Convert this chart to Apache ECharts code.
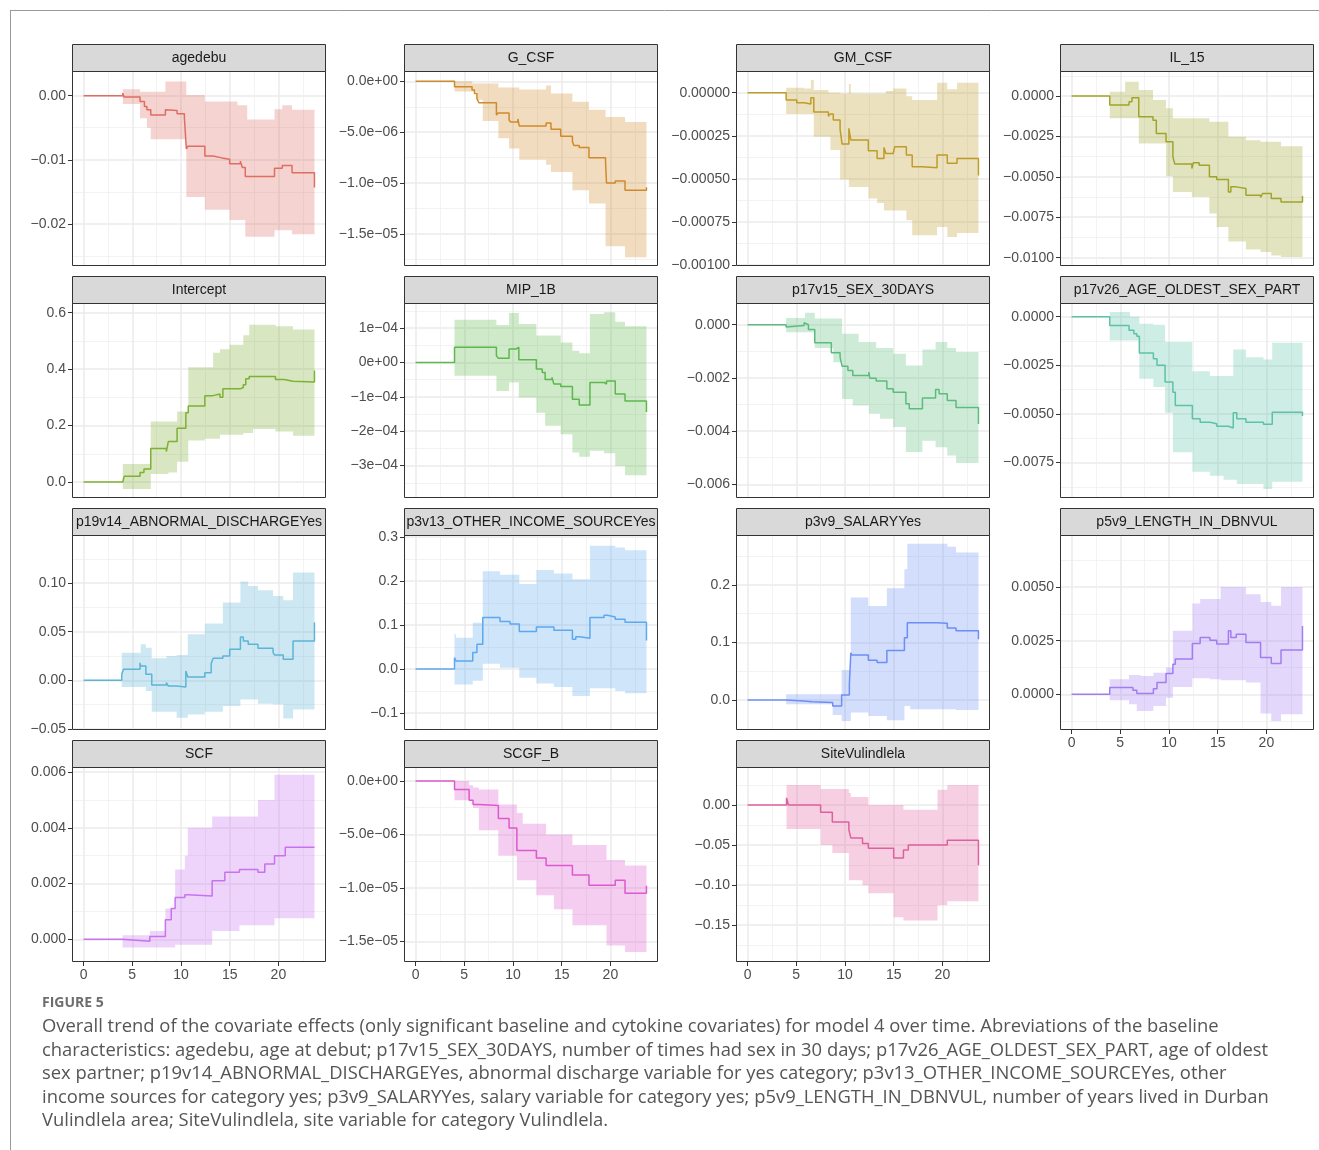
<!DOCTYPE html>
<html><head><meta charset="utf-8">
<script src="https://cdn.jsdelivr.net/npm/echarts@6/dist/echarts.min.js"></script>
<style>html,body{margin:0;padding:0;background:#fff;}#chart{width:1319px;height:1150px;}</style>
</head><body><div id="chart"></div>
<script>
// ---------------- DATA ----------------
const xTicks = [0, 5, 10, 15, 20];
const xMinorTicks = [2.5, 7.5, 12.5, 17.5, 22.5];

const agedebuT   = [0, 4.03, 4.15, 5.8, 6.25, 6.5, 6.9, 8.4, 8.6, 9.6, 10.35, 10.55, 10.7, 12.45, 13.3, 14.2, 15.0, 15.8, 16.1, 16.3, 16.6, 16.8, 19.6, 20.4, 21.4, 23.7];
const agedebuEst = [0, 0.0004, -0.0002, -0.0009, -0.0017, -0.0022, -0.003, -0.0022, -0.0023, -0.0028, -0.0034, -0.0083, -0.0079, -0.0094, -0.0097, -0.0099, -0.0106, -0.0106, -0.0102, -0.0112, -0.0126, -0.0126, -0.0113, -0.0109, -0.0120, -0.0143];
const agedebuHi  = [0, 0.001, 0.001, 0.0006, 0.0006, 0.0006, 0.0006, 0.0022, 0.0022, 0.0022, 0.0022, 0.0001, 0.0001, -0.0009, -0.0009, -0.0009, -0.0009, -0.0015, -0.0015, -0.0015, -0.0015, -0.0037, -0.0021, -0.0015, -0.0022, -0.0022];
const agedebuLo  = [0, -0.0013, -0.0013, -0.0035, -0.0035, -0.005, -0.0068, -0.0068, -0.0068, -0.0068, -0.0068, -0.0158, -0.0158, -0.0178, -0.0178, -0.0178, -0.0194, -0.0194, -0.0194, -0.0194, -0.0220, -0.0220, -0.0210, -0.0210, -0.0216, -0.0216];
const agedebuTicks = [0, -0.01, -0.02];
const agedebuLabels = ['0.00', '\u22120.01', '\u22120.02'];

const gcsfT   = [0, 4.0, 5.8, 6.05, 6.3, 6.5, 6.9, 8.3, 8.5, 9.6, 9.75, 10.5, 10.65, 13.4, 13.9, 14.9, 16.1, 16.25, 16.8, 17.8, 19.5, 19.6, 20.5, 21.5, 23.7];
const gcsfEst = [0, -5.3e-7, -8.5e-7, -1.2e-6, -1.7e-6, -2.1e-6, -2.1e-6, -3.3e-6, -3.1e-6, -3.8e-6, -4.0e-6, -3.7e-6, -4.4e-6, -4.1e-6, -4.7e-6, -5.4e-6, -5.9e-6, -6.3e-6, -6.5e-6, -7.5e-6, -7.9e-6, -1.0e-5, -9.8e-6, -1.07e-5, -1.04e-5];
const gcsfHi  = [0, 0, -2e-7, -2e-7, -2e-7, -2e-7, -2e-7, -2e-7, -6e-7, -6e-7, -6e-7, -6e-7, -8e-7, -4e-7, -1.2e-6, -1.2e-6, -2.0e-6, -2.0e-6, -2.0e-6, -2.8e-6, -3.5e-6, -3.5e-6, -3.5e-6, -4.0e-6, -4.0e-6];
const gcsfLo  = [0, -1.0e-6, -1.0e-6, -1.0e-6, -1.8e-6, -1.8e-6, -3.9e-6, -3.9e-6, -5.6e-6, -6.6e-6, -6.6e-6, -6.6e-6, -7.7e-6, -8.2e-6, -8.9e-6, -8.9e-6, -1.07e-5, -1.07e-5, -1.07e-5, -1.2e-5, -1.62e-5, -1.62e-5, -1.62e-5, -1.73e-5, -1.73e-5];
const gcsfTicks = [0, -5e-6, -1e-5, -1.5e-5];
const gcsfLabels = ['0.0e+00', '\u22125.0e\u221206', '\u22121.0e\u221205', '\u22121.5e\u221205'];

const gmcsfT   = [0, 3.96, 5.05, 5.8, 6.5, 6.8, 8.3, 8.5, 8.8, 9.5, 9.7, 10.4, 10.6, 12.4, 13.3, 14.0, 14.2, 14.95, 15.1, 16.3, 16.9, 17.95, 19.45, 20.5, 21.5, 23.7];
const gmcsfEst = [0, -4.3e-5, -5.8e-5, -6.6e-5, -2.9e-5, -1.12e-4, -1.36e-4, -1.24e-4, -1.59e-4, -2.13e-4, -2.98e-4, -2.07e-4, -2.75e-4, -3.37e-4, -3.82e-4, -3.18e-4, -3.53e-4, -3.62e-4, -3.14e-4, -3.62e-4, -4.30e-4, -4.36e-4, -3.62e-4, -4.10e-4, -3.82e-4, -4.80e-4];
const gmcsfHi  = [0, 2.9e-5, 2.9e-5, 2.5e-5, 7.4e-5, 1.6e-5, 0, 0, 0, -4e-6, -4e-6, 5.0e-5, -4e-6, -4e-6, -4e-6, -4e-6, 1.0e-5, 2.5e-5, 2.5e-5, -2.0e-5, -4.3e-5, -4.3e-5, 5.8e-5, 2.0e-5, 5.8e-5, 5.8e-5];
const gmcsfLo  = [0, -1.24e-4, -1.24e-4, -1.24e-4, -1.24e-4, -2.56e-4, -2.56e-4, -3.33e-4, -3.33e-4, -5.04e-4, -5.04e-4, -5.47e-4, -5.47e-4, -6.14e-4, -6.4e-4, -6.84e-4, -6.84e-4, -6.84e-4, -6.84e-4, -7.4e-4, -8.27e-4, -8.27e-4, -7.79e-4, -8.37e-4, -8.14e-4, -8.14e-4];
const gmcsfTicks = [0, -0.00025, -0.0005, -0.00075, -0.001];
const gmcsfLabels = ['0.00000', '\u22120.00025', '\u22120.00050', '\u22120.00075', '\u22120.00100'];

const il15T   = [0, 3.92, 5.5, 5.9, 6.2, 6.9, 8.36, 8.7, 9.7, 10.4, 10.6, 12.35, 12.5, 13.1, 14.15, 14.9, 16.1, 16.35, 16.9, 17.9, 19.4, 19.6, 20.5, 21.5, 23.7];
const il15Est = [0, -5.6e-4, -5.6e-4, -3.5e-4, -1.0e-4, -1.28e-3, -1.49e-3, -2.31e-3, -2.83e-3, -3.76e-3, -4.21e-3, -4.48e-3, -4.13e-3, -4.28e-3, -5.00e-3, -5.17e-3, -5.93e-3, -5.62e-3, -5.72e-3, -6.14e-3, -6.28e-3, -6.03e-3, -6.34e-3, -6.55e-3, -6.18e-3];
const il15Hi  = [0, 2.7e-4, 8.9e-4, 8.9e-4, 8.9e-4, 3.7e-4, -2.5e-4, -2.5e-4, -7.6e-4, -1.38e-3, -1.38e-3, -1.38e-3, -1.38e-3, -1.38e-3, -1.59e-3, -1.59e-3, -2.52e-3, -2.52e-3, -2.52e-3, -2.73e-3, -2.83e-3, -2.83e-3, -2.83e-3, -3.10e-3, -3.10e-3];
const il15Lo  = [0, -1.38e-3, -1.38e-3, -1.38e-3, -1.38e-3, -2.93e-3, -2.93e-3, -2.93e-3, -4.96e-3, -5.93e-3, -5.93e-3, -6.24e-3, -6.24e-3, -6.24e-3, -7.27e-3, -8.1e-3, -9.0e-3, -9.0e-3, -9.0e-3, -9.5e-3, -9.65e-3, -9.65e-3, -9.86e-3, -9.96e-3, -9.96e-3];
const il15Ticks = [0, -0.0025, -0.005, -0.0075, -0.01];
const il15Labels = ['0.0000', '\u22120.0025', '\u22120.0050', '\u22120.0075', '\u22120.0100'];

const interceptT   = [0, 4.03, 4.16, 5.8, 6.2, 6.9, 8.5, 8.7, 9.6, 10.5, 10.75, 12.45, 13.3, 14.0, 14.3, 15.0, 16.1, 16.4, 16.65, 17.0, 17.4, 19.7, 20.6, 21.5, 23.7];
const interceptEst = [0, -0.007, 0.02, 0.034, 0.046, 0.119, 0.108, 0.143, 0.19, 0.245, 0.269, 0.306, 0.312, 0.30, 0.33, 0.33, 0.335, 0.345, 0.366, 0.374, 0.374, 0.363, 0.357, 0.354, 0.395];
const interceptHi  = [0, 0.064, 0.064, 0.064, 0.064, 0.214, 0.214, 0.214, 0.25, 0.25, 0.407, 0.407, 0.458, 0.47, 0.47, 0.486, 0.486, 0.52, 0.52, 0.557, 0.557, 0.552, 0.552, 0.54, 0.54];
const interceptLo  = [0, -0.025, -0.025, -0.025, -0.025, 0.028, 0.028, 0.034, 0.072, 0.072, 0.147, 0.153, 0.153, 0.167, 0.167, 0.167, 0.167, 0.174, 0.174, 0.174, 0.188, 0.179, 0.179, 0.164, 0.164];
const interceptTicks = [0, 0.2, 0.4, 0.6];
const interceptLabels = ['0.0', '0.2', '0.4', '0.6'];

const mip1bT   = [0, 4.0, 8.3, 8.5, 9.6, 10.3, 10.6, 12.4, 13.0, 13.3, 14.0, 14.2, 14.9, 16.1, 16.8, 17.9, 19.35, 19.6, 20.5, 21.5, 23.7];
const mip1bEst = [0, 4.4e-5, 1.9e-5, 1.2e-5, 3.9e-5, 4.4e-5, 8e-6, -1.9e-5, -2.9e-5, -5.0e-5, -4.4e-5, -6.3e-5, -7.0e-5, -1.07e-4, -1.24e-4, -5.8e-5, -6.3e-5, -5.4e-5, -9.2e-5, -1.12e-4, -1.44e-4];
const mip1bHi  = [0, 1.24e-4, 1.09e-4, 1.09e-4, 1.44e-4, 1.44e-4, 1.12e-4, 7.8e-5, 7.8e-5, 7.8e-5, 7.8e-5, 7.8e-5, 5.8e-5, 3.4e-5, 2.7e-5, 1.41e-4, 1.46e-4, 1.46e-4, 1.18e-4, 1.05e-4, 1.05e-4];
const mip1bLo  = [0, -3.9e-5, -8.3e-5, -8.3e-5, -5.8e-5, -5.8e-5, -1.02e-4, -1.46e-4, -1.46e-4, -1.84e-4, -1.84e-4, -1.84e-4, -2.09e-4, -2.62e-4, -2.74e-4, -2.57e-4, -2.64e-4, -2.64e-4, -3.01e-4, -3.28e-4, -3.28e-4];
const mip1bTicks = [1e-4, 0, -1e-4, -2e-4, -3e-4];
const mip1bLabels = ['1e\u221204', '0e+00', '\u22121e\u221204', '\u22122e\u221204', '\u22123e\u221204'];

const sex30T   = [0, 3.96, 4.1, 5.8, 5.9, 6.25, 6.9, 8.6, 8.8, 9.5, 9.7, 10.3, 10.8, 11.4, 12.45, 12.55, 13.2, 13.6, 14.3, 14.95, 16.25, 16.6, 17.95, 19.3, 19.66, 20.5, 21.4, 23.7];
const sex30Est = [0, -9e-5, -3e-5, 7.5e-5, 0, -1.8e-4, -6.8e-4, -1.05e-3, -1.05e-3, -1.22e-3, -1.56e-3, -1.72e-3, -1.91e-3, -1.91e-3, -1.78e-3, -2.01e-3, -2.12e-3, -2.12e-3, -2.41e-3, -2.54e-3, -2.97e-3, -3.16e-3, -2.76e-3, -2.44e-3, -2.60e-3, -2.85e-3, -3.11e-3, -3.73e-3];
const sex30Hi  = [0, 2.5e-4, 2.5e-4, 2.5e-4, 4.5e-4, 4.5e-4, 2.3e-4, 2.3e-4, 2.3e-4, 2.3e-4, -3.4e-4, -3.4e-4, -3.4e-4, -6.5e-4, -6.5e-4, -6.5e-4, -8.8e-4, -8.8e-4, -8.8e-4, -1.09e-3, -1.53e-3, -1.53e-3, -9.3e-4, -6.5e-4, -6.5e-4, -8.8e-4, -1.03e-3, -1.03e-3];
const sex30Lo  = [0, -2.8e-4, -2.8e-4, -2.8e-4, -2.8e-4, -2.8e-4, -8.8e-4, -8.8e-4, -1.41e-3, -1.41e-3, -2.79e-3, -2.79e-3, -3.04e-3, -3.04e-3, -3.35e-3, -3.35e-3, -3.35e-3, -3.54e-3, -3.54e-3, -3.85e-3, -4.79e-3, -4.79e-3, -4.36e-3, -4.61e-3, -4.61e-3, -4.92e-3, -5.20e-3, -5.20e-3];
const sex30Ticks = [0, -0.002, -0.004, -0.006];
const sex30Labels = ['0.000', '\u22120.002', '\u22120.004', '\u22120.006'];

const oldestT   = [0, 3.92, 5.9, 6.0, 6.4, 6.7, 6.96, 8.4, 8.77, 9.6, 10.4, 10.65, 12.4, 13.2, 14.2, 14.9, 15.6, 16.1, 16.6, 16.96, 17.9, 19.7, 20.6, 23.7];
const oldestEst = [0, -4.5e-4, -7.0e-4, -7.0e-4, -8.8e-4, -1.0e-3, -1.87e-3, -2.16e-3, -2.5e-3, -3.36e-3, -3.88e-3, -4.57e-3, -5.25e-3, -5.42e-3, -5.5e-3, -5.63e-3, -5.63e-3, -5.72e-3, -4.94e-3, -5.25e-3, -5.42e-3, -5.53e-3, -4.91e-3, -5.11e-3];
const oldestHi  = [0, 2.4e-4, 2.4e-4, 0, 0, 0, -3.6e-4, -4.1e-4, -4.1e-4, -1.3e-3, -1.3e-3, -1.3e-3, -2.81e-3, -2.81e-3, -3.05e-3, -3.05e-3, -3.05e-3, -3.05e-3, -1.68e-3, -1.68e-3, -2.08e-3, -2.2e-3, -1.34e-3, -1.34e-3];
const oldestLo  = [0, -1.22e-3, -1.22e-3, -1.22e-3, -1.22e-3, -1.22e-3, -3.19e-3, -3.62e-3, -3.62e-3, -4.94e-3, -6.97e-3, -6.97e-3, -7.97e-3, -7.97e-3, -8.17e-3, -8.17e-3, -8.38e-3, -8.38e-3, -8.38e-3, -8.6e-3, -8.6e-3, -8.86e-3, -8.48e-3, -8.48e-3];
const oldestTicks = [0, -0.0025, -0.005, -0.0075];
const oldestLabels = ['0.0000', '\u22120.0025', '\u22120.0050', '\u22120.0075'];

const dischT   = [0, 3.92, 4.1, 5.8, 5.87, 6.4, 7.0, 8.5, 8.7, 9.55, 10.5, 10.7, 12.45, 13.1, 13.3, 14.3, 15.0, 16.1, 16.4, 16.9, 17.9, 19.45, 19.6, 20.5, 21.5, 23.7];
const dischEst = [0, 0.0062, 0.0113, 0.018, 0.0148, 0.0062, -0.0048, -0.0024, -0.0058, -0.0069, 0.0096, 0.0034, 0.0079, 0.0172, 0.0227, 0.025, 0.0319, 0.0446, 0.0405, 0.0371, 0.033, 0.0285, 0.0261, 0.0216, 0.0405, 0.0594];
const dischHi  = [0, 0.0285, 0.0285, 0.0285, 0.037, 0.0336, 0.0227, 0.025, 0.025, 0.026, 0.026, 0.0474, 0.0584, 0.0584, 0.0584, 0.08, 0.08, 0.1016, 0.1016, 0.097, 0.0927, 0.0868, 0.0868, 0.0824, 0.1109, 0.1109];
const dischLo  = [0, -0.0069, -0.0069, -0.0069, -0.0069, -0.011, -0.0323, -0.0323, -0.0323, -0.0384, -0.0384, -0.035, -0.0323, -0.0323, -0.0323, -0.0264, -0.0264, -0.0196, -0.0196, -0.0196, -0.024, -0.0247, -0.0247, -0.0391, -0.0299, -0.0299];
const dischTicks = [0.1, 0.05, 0, -0.05];
const dischLabels = ['0.10', '0.05', '0.00', '\u22120.05'];

const incomeT   = [0, 4.0, 4.15, 5.87, 6.3, 6.9, 8.67, 9.7, 10.65, 12.4, 14.2, 16.1, 16.45, 16.86, 17.9, 19.35, 19.7, 20.5, 21.5, 23.7];
const incomeEst = [0, 0.0258, 0.0182, 0.0372, 0.0562, 0.117, 0.108, 0.102, 0.085, 0.0956, 0.088, 0.0676, 0.073, 0.07, 0.117, 0.122, 0.118, 0.113, 0.106, 0.065];
const incomeHi  = [0, 0.079, 0.071, 0.105, 0.105, 0.222, 0.214, 0.214, 0.193, 0.225, 0.217, 0.204, 0.204, 0.204, 0.28, 0.28, 0.28, 0.276, 0.27, 0.27];
const incomeLo  = [0, -0.035, -0.035, -0.027, -0.027, 0.012, 0.003, 0.003, -0.02, -0.033, -0.041, -0.0615, -0.0615, -0.0615, -0.044, -0.044, -0.044, -0.05, -0.055, -0.055];
const incomeTicks = [0.3, 0.2, 0.1, 0, -0.1];
const incomeLabels = ['0.3', '0.2', '0.1', '0.0', '\u22120.1'];

const salaryT   = [0, 3.96, 4.1, 5.73, 6.6, 8.74, 9.66, 10.45, 10.6, 10.7, 12.4, 13.3, 14.3, 16.1, 16.4, 16.7, 19.4, 20.5, 21.4, 23.7];
const salaryEst = [0, 0.003, -0.0017, -0.003, -0.0046, -0.0104, 0.0087, 0.027, 0.082, 0.078, 0.069, 0.065, 0.086, 0.108, 0.134, 0.134, 0.133, 0.125, 0.12, 0.1055];
const salaryHi  = [0, 0.01, 0.01, 0.01, 0.01, 0.01, 0.052, 0.052, 0.178, 0.178, 0.163, 0.163, 0.194, 0.227, 0.271, 0.271, 0.271, 0.266, 0.256, 0.256];
const salaryLo  = [0, -0.0075, -0.0075, -0.0075, -0.0075, -0.026, -0.0365, -0.0365, -0.022, -0.022, -0.028, -0.028, -0.0354, -0.0104, -0.0104, -0.016, -0.016, -0.016, -0.0174, -0.0174];
const salaryTicks = [0.2, 0.1, 0];
const salaryLabels = ['0.2', '0.1', '0.0'];

const lengthT   = [0, 3.92, 5.9, 6.3, 6.7, 7.1, 8.4, 8.77, 9.7, 10.4, 10.65, 12.4, 13.2, 14.2, 14.9, 15.3, 16.1, 16.35, 16.9, 17.9, 19.4, 20.5, 21.5, 23.7];
const lengthEst = [0, 3.1e-4, 3.1e-4, 1.9e-4, 3e-5, 3e-5, 2.6e-4, 5.5e-4, 9.7e-4, 1.40e-3, 1.64e-3, 2.37e-3, 2.65e-3, 2.52e-3, 2.34e-3, 2.34e-3, 2.96e-3, 2.65e-3, 2.80e-3, 2.41e-3, 1.71e-3, 1.43e-3, 2.06e-3, 3.19e-3];
const lengthHi  = [0, 7.0e-4, 9.0e-4, 9.0e-4, 9.0e-4, 8.5e-4, 1.0e-3, 1.0e-3, 1.25e-3, 2.96e-3, 2.96e-3, 4.24e-3, 4.44e-3, 4.44e-3, 4.44e-3, 5.0e-3, 5.0e-3, 5.0e-3, 5.0e-3, 4.67e-3, 4.31e-3, 4.13e-3, 5.0e-3, 5.0e-3];
const lengthLo  = [0, -2.8e-4, -4.7e-4, -4.7e-4, -7.8e-4, -7.8e-4, -5.5e-4, -5.5e-4, -1.6e-4, 3.4e-4, 3.4e-4, 7.5e-4, 7.5e-4, 7.0e-4, 7.0e-4, 6.5e-4, 6.5e-4, 6.5e-4, 6.5e-4, 5.5e-4, -9.0e-4, -1.25e-3, -9.3e-4, -9.3e-4];
const lengthTicks = [0.005, 0.0025, 0];
const lengthLabels = ['0.0050', '0.0025', '0.0000'];

const scfT   = [0, 4.0, 6.8, 8.4, 9.0, 9.4, 10.4, 10.7, 13.2, 14.5, 16.0, 17.9, 18.6, 19.6, 20.7, 23.7];
const scfEst = [0, -7e-5, 1e-4, 7e-4, 1.1e-3, 1.5e-3, 1.6e-3, 1.55e-3, 2.1e-3, 2.4e-3, 2.5e-3, 2.4e-3, 2.7e-3, 3.0e-3, 3.3e-3, 3.3e-3];
const scfHi  = [0, 1.4e-4, 3e-4, 1.1e-3, 1.1e-3, 2.5e-3, 3.0e-3, 4.0e-3, 4.4e-3, 4.4e-3, 4.4e-3, 5.0e-3, 5.0e-3, 5.9e-3, 5.9e-3, 5.9e-3];
const scfLo  = [0, -3e-4, -3e-4, -3e-4, -3e-4, -2e-4, -2e-4, -2e-4, 3e-4, 3e-4, 5e-4, 5e-4, 5e-4, 7.5e-4, 7.5e-4, 7.5e-4];
const scfTicks = [0.006, 0.004, 0.002, 0];
const scfLabels = ['0.006', '0.004', '0.002', '0.000'];

const scgfT   = [0, 4.0, 5.5, 5.9, 6.5, 8.5, 9.6, 10.4, 11.0, 12.4, 13.4, 14.2, 16.1, 16.8, 17.8, 19.6, 20.5, 21.5, 23.7];
const scgfEst = [0, -8e-7, -1.8e-6, -2.2e-6, -2.3e-6, -3.5e-6, -4.4e-6, -6.5e-6, -6.5e-6, -7.2e-6, -7.9e-6, -7.9e-6, -8.8e-6, -8.8e-6, -9.75e-6, -9.75e-6, -9.3e-6, -1.05e-5, -9.8e-6];
const scgfHi  = [0, 0, -4e-7, -6e-7, -8e-7, -2.2e-6, -2.2e-6, -3.0e-6, -4.0e-6, -4.0e-6, -5.0e-6, -5.0e-6, -6.0e-6, -6.0e-6, -6.0e-6, -7.4e-6, -7.4e-6, -7.9e-6, -7.9e-6];
const scgfLo  = [0, -1.8e-6, -1.8e-6, -2.5e-6, -4.6e-6, -7.0e-6, -7.0e-6, -9.3e-6, -9.3e-6, -1.07e-5, -1.07e-5, -1.2e-5, -1.35e-5, -1.35e-5, -1.35e-5, -1.54e-5, -1.54e-5, -1.6e-5, -1.6e-5];
const scgfTicks = [0, -5e-6, -1e-5, -1.5e-5];
const scgfLabels = ['0.0e+00', '\u22125.0e\u221206', '\u22121.0e\u221205', '\u22121.5e\u221205'];

const siteT   = [0, 4.0, 4.2, 7.5, 8.7, 10.4, 10.6, 11.8, 12.4, 15.0, 16.0, 16.5, 19.5, 20.5, 23.7];
const siteEst = [0, 0.009, 0.0, -0.009, -0.021, -0.031, -0.041, -0.048, -0.054, -0.066, -0.056, -0.05, -0.05, -0.044, -0.075];
const siteHi  = [0, 0.025, 0.025, 0.02, 0.02, 0.015, 0.01, 0.01, 0.0, 0.0, -0.006, -0.006, 0.019, 0.025, 0.025];
const siteLo  = [0, -0.03, -0.03, -0.05, -0.06, -0.094, -0.094, -0.1, -0.11, -0.14, -0.144, -0.144, -0.125, -0.12, -0.12];
const siteTicks = [0, -0.05, -0.1, -0.15];
const siteLabels = ['0.00', '\u22120.05', '\u22120.10', '\u22120.15'];

const panelNames = ['agedebu', 'G_CSF', 'GM_CSF', 'IL_15', 'Intercept', 'MIP_1B', 'p17v15_SEX_30DAYS', 'p17v26_AGE_OLDEST_SEX_PART',
  'p19v14_ABNORMAL_DISCHARGEYes', 'p3v13_OTHER_INCOME_SOURCEYes', 'p3v9_SALARYYes', 'p5v9_LENGTH_IN_DBNVUL', 'SCF', 'SCGF_B', 'SiteVulindlela'];

const captionTitle = 'FIGURE 5';
const captionLines = [
  'Overall trend of the covariate effects (only significant baseline and cytokine covariates) for model 4 over time. Abreviations of the baseline',
  'characteristics: agedebu, age at debut; p17v15_SEX_30DAYS, number of times had sex in 30 days; p17v26_AGE_OLDEST_SEX_PART, age of oldest',
  'sex partner; p19v14_ABNORMAL_DISCHARGEYes, abnormal discharge variable for yes category; p3v13_OTHER_INCOME_SOURCEYes, other',
  'income sources for category yes; p3v9_SALARYYes, salary variable for category yes; p5v9_LENGTH_IN_DBNVUL, number of years lived in Durban',
  'Vulindlela area; SiteVulindlela, site variable for category Vulindlela.'
];

// ---------------- PANEL TABLE (built from the arrays) ----------------
const panelData = [
  [agedebuT, agedebuEst, agedebuLo, agedebuHi, agedebuTicks, agedebuLabels],
  [gcsfT, gcsfEst, gcsfLo, gcsfHi, gcsfTicks, gcsfLabels],
  [gmcsfT, gmcsfEst, gmcsfLo, gmcsfHi, gmcsfTicks, gmcsfLabels],
  [il15T, il15Est, il15Lo, il15Hi, il15Ticks, il15Labels],
  [interceptT, interceptEst, interceptLo, interceptHi, interceptTicks, interceptLabels],
  [mip1bT, mip1bEst, mip1bLo, mip1bHi, mip1bTicks, mip1bLabels],
  [sex30T, sex30Est, sex30Lo, sex30Hi, sex30Ticks, sex30Labels],
  [oldestT, oldestEst, oldestLo, oldestHi, oldestTicks, oldestLabels],
  [dischT, dischEst, dischLo, dischHi, dischTicks, dischLabels],
  [incomeT, incomeEst, incomeLo, incomeHi, incomeTicks, incomeLabels],
  [salaryT, salaryEst, salaryLo, salaryHi, salaryTicks, salaryLabels],
  [lengthT, lengthEst, lengthLo, lengthHi, lengthTicks, lengthLabels],
  [scfT, scfEst, scfLo, scfHi, scfTicks, scfLabels],
  [scgfT, scgfEst, scgfLo, scgfHi, scgfTicks, scgfLabels],
  [siteT, siteEst, siteLo, siteHi, siteTicks, siteLabels]
];

// y-axis limits per panel (scale settings)
const yLimits = [
  [-0.02656, 0.00385], [-1.815e-5, 1.017e-6], [-0.0010058, 0.000126], [-0.010517, 0.00155],
  [-0.0568, 0.6343], [-3.942e-4, 1.728e-4], [-0.006515, 0.000816], [-0.009319, 0.000704],
  [-0.05103, 0.14943], [-0.1387, 0.30455], [-0.05217, 0.2864], [-0.001667, 0.00743],
  [-0.000816, 0.00618], [-1.694e-5, 1.31e-6], [-0.1959, 0.0475]
];
const X_MIN = -1.185, X_MAX = 24.885;

// ---------------- STYLE / LAYOUT ----------------
const COLORS = ['#DE6E62', '#D08A2C', '#BF9B2A', '#A0A42A', '#7EB032', '#5CB84C', '#5CBC7E', '#5EC2A6',
  '#5CB4D6', '#5EA8F0', '#6C8EF6', '#A27CF2', '#C872EE', '#DE58CE', '#E0609E'];
const COL_LEFT = [72, 404, 736, 1060];
const ROW_TOP = [44, 276, 508, 740];
const PW = 254, STRIP_H = 27, PH = 195;
const FONT = '"Liberation Sans", Arial, Helvetica, sans-serif';
const CAP_FONT = '"Open Sans", "Noto Sans", sans-serif';
const showXLabels = i => i >= 12 || i === 11;

function minorOf(ticks, min, max) {
  const s = [...ticks].sort((a, b) => a - b);
  const d = s[1] - s[0];
  const out = [];
  for (let v = s[0] - d / 2; v <= max + d * 1e-6; v += d) { if (v >= min) out.push(v); }
  return out;
}

const grids = [], xAxes = [], yAxes = [], series = [], graphics = [];
panelNames.forEach((name, i) => {
  const r = Math.floor(i / 4), c = i % 4;
  const L = COL_LEFT[c], T = ROW_TOP[r] + STRIP_H;
  grids.push({ left: L, top: T, width: PW, height: PH, show: true, backgroundColor: '#fff', borderWidth: 0, containLabel: false, outerBoundsMode: 'none' });
  const [t, est, lo, hi, yt, yl] = panelData[i];
  const [ymin, ymax] = yLimits[i];
  const sx = showXLabels(i);
  xAxes.push({
    type: 'value', gridIndex: i, min: X_MIN, max: X_MAX,
    axisLine: { show: false, onZero: false },
    axisTick: { show: sx, length: 4, lineStyle: { color: '#333', width: 1 }, customValues: xTicks },
    axisLabel: { show: sx, customValues: xTicks, fontSize: 14, color: '#4D4D4D', margin: 6, fontFamily: FONT },
    splitLine: { show: true, lineStyle: { color: '#EBEBEB', width: 1.5 } }
  });
  xAxes.push({
    type: 'value', gridIndex: i, min: X_MIN, max: X_MAX,
    axisLine: { show: false, onZero: false }, axisTick: { show: false, customValues: xMinorTicks },
    axisLabel: { show: false, customValues: xMinorTicks },
    splitLine: { show: true, lineStyle: { color: '#F0F0F0', width: 0.8 } }
  });
  yAxes.push({
    type: 'value', gridIndex: i, min: ymin, max: ymax,
    axisLine: { show: false, onZero: false },
    axisTick: { show: true, length: 4, lineStyle: { color: '#333', width: 1 }, customValues: yt },
    axisLabel: {
      customValues: yt, fontSize: 14, color: '#4D4D4D', margin: 6, fontFamily: FONT,
      formatter: v => { let best = 0, bd = Infinity; yt.forEach((tv, k) => { const d = Math.abs(tv - v); if (d < bd) { bd = d; best = k; } }); return yl[best]; }
    },
    splitLine: { show: true, lineStyle: { color: '#EBEBEB', width: 1.5 } }
  });
  const ym = minorOf(yt, ymin, ymax);
  yAxes.push({
    type: 'value', gridIndex: i, min: ymin, max: ymax,
    axisLine: { show: false, onZero: false }, axisTick: { show: false, customValues: ym },
    axisLabel: { show: false, customValues: ym },
    splitLine: { show: true, lineStyle: { color: '#F0F0F0', width: 0.8 } }
  });
  const xi = 2 * i, yi = 2 * i;
  const col = COLORS[i];
  // confidence ribbon: one stepped polygon through the axis scales
  series.push({
    type: 'custom', xAxisIndex: xi, yAxisIndex: yi, silent: true, z: 2, clip: true,
    data: t.map((x, k) => [x, lo[k], hi[k]]),
    encode: { x: 0, y: [1, 2] },
    renderItem: (params, api) => {
      if (params.dataIndex !== 0) return null;
      const top = [], bot = [];
      for (let k = 0; k < t.length; k++) {
        const x0 = t[k], x1 = k + 1 < t.length ? t[k + 1] : t[k];
        top.push(api.coord([x0, hi[k]]), api.coord([x1, hi[k]]));
        bot.push(api.coord([x0, lo[k]]), api.coord([x1, lo[k]]));
      }
      return { type: 'polygon', shape: { points: top.concat(bot.reverse()) }, style: { fill: col, opacity: 0.3 } };
    }
  });
  series.push({
    type: 'line', xAxisIndex: xi, yAxisIndex: yi, step: 'end', symbol: 'none', silent: true,
    lineStyle: { color: col, width: 1.5 }, z: 3,
    data: t.map((x, k) => [x, est[k]])
  });
  // strip
  graphics.push({ type: 'rect', z: 10, shape: { x: L + 0.5, y: ROW_TOP[r] + 0.5, width: PW - 1, height: STRIP_H },
    style: { fill: '#D9D9D9', stroke: '#333333', lineWidth: 1 } });
  graphics.push({ type: 'text', z: 11, x: L + PW / 2, y: ROW_TOP[r] + STRIP_H / 2 + 1,
    style: { text: name, fill: '#1A1A1A', font: '14px ' + FONT, textAlign: 'center', textVerticalAlign: 'middle' } });
  // panel border
  graphics.push({ type: 'rect', z: 10, shape: { x: L + 0.5, y: T + 0.5, width: PW - 1, height: PH - 1 },
    style: { fill: null, stroke: '#333333', lineWidth: 1 } });
});

// page frame lines
graphics.push({ type: 'line', z: 1, shape: { x1: 10, y1: 10.5, x2: 1319, y2: 10.5 }, style: { stroke: '#9A9A9A', lineWidth: 1 } });
graphics.push({ type: 'line', z: 1, shape: { x1: 10.5, y1: 10, x2: 10.5, y2: 1150 }, style: { stroke: '#9A9A9A', lineWidth: 1 } });
// caption
graphics.push({ type: 'text', z: 5, x: 42, y: 1003,
  style: { text: captionTitle, fill: '#6E6E6E', font: 'bold 14px ' + CAP_FONT, textVerticalAlign: 'middle' } });
captionLines.forEach((ln, k) => {
  graphics.push({ type: 'text', z: 5, x: 42, y: 1027 + k * 23.5,
    style: { text: ln, fill: '#555555', font: '18.4px ' + CAP_FONT, textVerticalAlign: 'middle' } });
});

const chart = echarts.init(document.getElementById('chart'), null, { renderer: 'canvas' });
chart.setOption({
  animation: false,
  backgroundColor: '#ffffff',
  grid: grids, xAxis: xAxes, yAxis: yAxes, series: series, graphic: graphics
});
</script></body></html>
